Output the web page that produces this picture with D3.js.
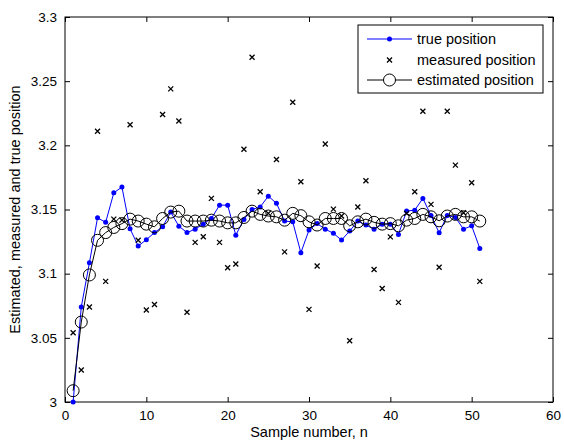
<!DOCTYPE html>
<html><head><meta charset="utf-8">
<script src="https://cdn.jsdelivr.net/npm/d3@7/dist/d3.min.js"></script>
<style>body{margin:0;background:#fff}svg{display:block}text{font-family:"Liberation Sans",Arial,sans-serif}</style>
</head><body><svg id="c" width="564" height="441"></svg>
<script>
const samples = d3.range(1, 52);
const truePos = [3.000,3.074,3.1085,3.1435,3.140,3.163,3.1675,3.135,3.1215,3.1265,
3.132,3.1365,3.148,3.137,3.132,3.1347,3.1386,3.143,3.1534,3.1534,
3.130,3.1423,3.150,3.152,3.1604,3.1548,3.141,3.1404,3.1163,3.134,
3.139,3.1347,3.1314,3.1262,3.1332,3.141,3.1379,3.1347,3.1386,3.1386,
3.1306,3.1488,3.1495,3.1586,3.1454,3.1319,3.1454,3.1438,3.1347,3.1373,3.1197];
const measured = [3.054,3.025,3.074,3.211,3.094,3.1425,3.1417,3.216,3.126,3.0717,
3.076,3.224,3.244,3.219,3.0699,3.1244,3.1288,3.1587,3.1244,3.1046,
3.1075,3.197,3.2687,3.1638,3.147,3.189,3.117,3.2336,3.1716,3.0722,
3.106,3.201,3.1503,3.145,3.0477,3.152,3.1724,3.1033,3.0885,3.1287,
3.0776,3.147,3.1638,3.2266,3.154,3.105,3.2266,3.1846,3.1475,3.1708,3.094];
const estimated = [3.0088,3.0623,3.099,3.126,3.132,3.136,3.139,3.1425,3.141,3.1386,
3.1365,3.143,3.148,3.1487,3.141,3.141,3.141,3.1417,3.141,3.1396,
3.1396,3.1438,3.1487,3.1462,3.1449,3.1443,3.1417,3.147,3.1452,3.1404,
3.1379,3.143,3.143,3.143,3.1373,3.1404,3.1425,3.140,3.1386,3.139,
3.1373,3.1417,3.143,3.1462,3.1443,3.1412,3.1449,3.1462,3.1443,3.1443,3.141];
const xTicks = [0,10,20,30,40,50,60];
const yTicks = [3,3.05,3.1,3.15,3.2,3.25,3.3];
const yTickLabels = ["3","3.05","3.1","3.15","3.2","3.25","3.3"];
const legendLabels = ["true position","measured position","estimated position"];

const L=65,T=17,R=553,B=402;
const svg=d3.select("#c");
const x=d3.scaleLinear().domain([0,60]).range([L,R]);
const y=d3.scaleLinear().domain([3,3.3]).range([B,T]);
const fs=13.5, lfs=14.5;

const gx=svg.append("g").attr("transform",`translate(0,${B})`)
 .call(d3.axisBottom(x).tickValues(xTicks).tickSizeInner(-5).tickSizeOuter(0).tickPadding(8));
const gxt=svg.append("g").attr("transform",`translate(0,${T})`)
 .call(d3.axisTop(x).tickValues(xTicks).tickSizeInner(-5).tickSizeOuter(0).tickFormat(""));
const gy=svg.append("g").attr("transform",`translate(${L},0)`)
 .call(d3.axisLeft(y).tickValues(yTicks).tickSizeInner(-5).tickSizeOuter(0).tickPadding(8).tickFormat((d,i)=>yTickLabels[i]));
const gyr=svg.append("g").attr("transform",`translate(${R},0)`)
 .call(d3.axisRight(y).tickValues(yTicks).tickSizeInner(-5).tickSizeOuter(0).tickFormat(""));
[gx,gxt,gy,gyr].forEach(g=>{g.select(".domain").remove();g.selectAll("line").attr("stroke","#000");
 g.selectAll("text").attr("font-size",fs).attr("fill","#000").style("font-family","'Liberation Sans',Arial,sans-serif");});
svg.append("rect").attr("x",L).attr("y",T).attr("width",R-L).attr("height",B-T)
 .attr("fill","none").attr("stroke","#000").attr("stroke-width",1);

svg.append("path").datum(truePos).attr("fill","none").attr("stroke","#0000ff").attr("stroke-width",1)
 .attr("d",d3.line().x((d,i)=>x(samples[i])).y(d=>y(d)));
svg.append("g").selectAll("circle").data(truePos).join("circle")
 .attr("cx",(d,i)=>x(samples[i])).attr("cy",d=>y(d)).attr("r",2.5).attr("fill","#0000ff");

const cross=(g,cx,cy,s)=>g.append("path").attr("d",`M${cx-s},${cy-s}L${cx+s},${cy+s}M${cx-s},${cy+s}L${cx+s},${cy-s}`)
 .attr("stroke","#000").attr("stroke-width",1.3).attr("fill","none");
const gm=svg.append("g");
measured.forEach((d,i)=>cross(gm,x(samples[i]),y(d),2.5));

svg.append("path").datum(estimated).attr("fill","none").attr("stroke","#000").attr("stroke-width",1)
 .attr("d",d3.line().x((d,i)=>x(samples[i])).y(d=>y(d)));
svg.append("g").selectAll("circle").data(estimated).join("circle")
 .attr("cx",(d,i)=>x(samples[i])).attr("cy",d=>y(d)).attr("r",6).attr("fill","none").attr("stroke","#000").attr("stroke-width",1);

const lg=svg.append("g");
lg.append("rect").attr("x",358).attr("y",25).attr("width",185).attr("height",68).attr("fill","#fff").attr("stroke","#000");
const ly=[39,60,80];
legendLabels.forEach((t,i)=>{
 const yy=ly[i];
 if(i===0){lg.append("line").attr("x1",367).attr("x2",412).attr("y1",yy).attr("y2",yy).attr("stroke","#0000ff");
   lg.append("circle").attr("cx",389.5).attr("cy",yy).attr("r",2.5).attr("fill","#0000ff");}
 if(i===1){cross(lg,389.5,yy,2.5);}
 if(i===2){lg.append("line").attr("x1",367).attr("x2",412).attr("y1",yy).attr("y2",yy).attr("stroke","#000");
   lg.append("circle").attr("cx",389.5).attr("cy",yy).attr("r",6).attr("fill","#fff").attr("stroke","#000");}
 lg.append("text").attr("x",417).attr("y",yy).attr("dy","0.35em").attr("font-size",lfs).text(t);
});

svg.append("text").attr("x",(L+R)/2).attr("y",437).attr("text-anchor","middle").attr("font-size",lfs).text("Sample number, n");
svg.append("text").attr("transform",`translate(20,${(T+B)/2}) rotate(-90)`).attr("text-anchor","middle").attr("font-size",lfs)
 .text("Estimated, measured and true position");
</script></body></html>
